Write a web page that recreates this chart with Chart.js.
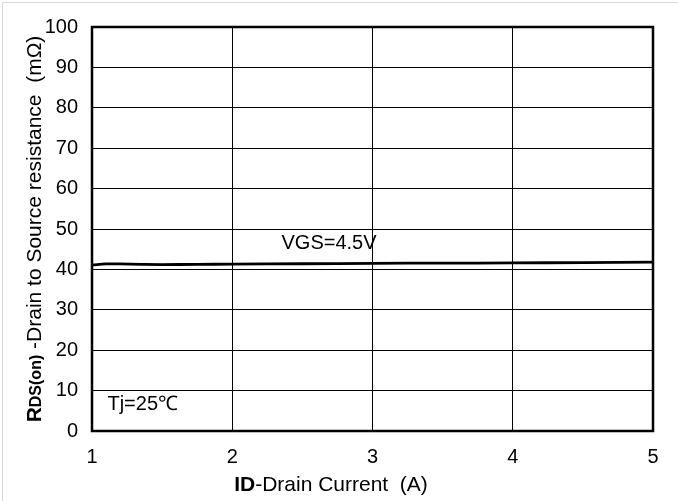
<!DOCTYPE html>
<html>
<head>
<meta charset="utf-8">
<script src="https://cdn.jsdelivr.net/npm/chart.js@4"></script>
<style>
  html, body { margin: 0; padding: 0; background: #fff; }
  #wrap { position: relative; width: 678px; height: 501px; }
  #frame { position: absolute; left: 2px; top: 2px; right: 0; bottom: 0;
           border-left: 1px solid #d9d9d9; border-top: 1px solid #d9d9d9; pointer-events: none; }
  canvas { display: block; }
</style>
</head>
<body>
<div id="wrap">
  <canvas id="c" width="678" height="501"></canvas>
  <div id="frame"></div>
</div>
<script>
// Drain current (A) and on-resistance (mΩ) at VGS = 4.5 V, Tj = 25 °C
const drainCurrent = [1.0, 1.1, 1.2, 1.35, 1.5, 1.75, 2.0, 2.5, 3.0, 3.5, 4.0, 4.5, 5.0];
const rdsOn        = [41.1, 41.35, 41.35, 41.25, 41.2, 41.25, 41.3, 41.4, 41.5, 41.55, 41.6, 41.7, 41.8];

const xTicks = [1, 2, 3, 4, 5];
const yTicks = [0, 10, 20, 30, 40, 50, 60, 70, 80, 90, 100];

const curveLabel = 'VGS=4.5V';
const tempLabel = 'Tj=25℃';
const curveLabelPos = { x: 2.69, y: 46.3 };
const tempLabelPos = { x: 1.11, y: 6.5 };

const FONT = '"Liberation Sans", Arial, sans-serif';
const FS = 20;      // annotations and tick labels
const TS = 21;      // axis titles

const plotFrame = {
  id: 'plotFrame',
  afterDraw(chart) {
    const { ctx, chartArea: a, scales } = chart;
    ctx.save();
    // outer frame of the plot area
    ctx.strokeStyle = '#000';
    ctx.lineWidth = 2.5;
    ctx.strokeRect(a.left, a.top, a.right - a.left, a.bottom - a.top);

    // annotations inside the plot
    ctx.fillStyle = '#000';
    ctx.font = `${FS}px ${FONT}`;
    ctx.textBaseline = 'middle';
    ctx.textAlign = 'center';
    ctx.fillText(curveLabel, scales.x.getPixelForValue(curveLabelPos.x), scales.y.getPixelForValue(curveLabelPos.y));
    ctx.textAlign = 'left';
    ctx.fillText(tempLabel, scales.x.getPixelForValue(tempLabelPos.x), scales.y.getPixelForValue(tempLabelPos.y));

    // x axis title: bold "ID" followed by regular text
    const xParts = [
      { t: 'ID', f: `bold ${TS}px ${FONT}` },
      { t: '-Drain Current  (A)', f: `${TS}px ${FONT}` }
    ];
    drawParts(ctx, xParts, 331, 483, TS);

    // y axis title, rotated
    ctx.save();
    ctx.translate(33, 229);
    ctx.rotate(-Math.PI / 2);
    const yParts = [
      { t: 'R', f: `bold ${TS}px ${FONT}` },
      { t: 'DS(on)', f: `bold ${TS - 5}px ${FONT}` },
      { t: ' -Drain to Source resistance  (mΩ)', f: `${TS}px ${FONT}` }
    ];
    drawParts(ctx, yParts, 0, 0, TS);
    ctx.restore();
    ctx.restore();
  }
};

function drawParts(ctx, parts, cx, cy, size) {
  let total = 0;
  parts.forEach(p => { ctx.font = p.f; p.w = ctx.measureText(p.t).width; total += p.w; });
  let x = cx - total / 2;
  ctx.textAlign = 'left';
  ctx.textBaseline = 'alphabetic';
  parts.forEach(p => {
    ctx.font = p.f;
    ctx.fillText(p.t, x, cy + size * 0.36);
    x += p.w;
  });
}

new Chart(document.getElementById('c'), {
  type: 'line',
  data: {
    datasets: [{
      data: drainCurrent.map((x, i) => ({ x, y: rdsOn[i] })),
      borderColor: '#000',
      borderWidth: 2.8,
      pointRadius: 0,
      tension: 0.4,
      fill: false
    }]
  },
  options: {
    responsive: false,
    animation: false,
    layout: { padding: { top: 27, right: 25, left: 0, bottom: 0 } },
    plugins: { legend: { display: false }, tooltip: { enabled: false } },
    scales: {
      x: {
        type: 'linear', min: 1, max: 5,
        afterBuildTicks: s => { s.ticks = xTicks.map(v => ({ value: v })); },
        afterFit: s => { s.height = 70; },
        grid: { color: '#000', lineWidth: 1, drawTicks: false },
        border: { display: false },
        ticks: { color: '#000', font: { family: FONT, size: FS }, padding: 14 }
      },
      y: {
        type: 'linear', min: 0, max: 100,
        afterBuildTicks: s => { s.ticks = yTicks.map(v => ({ value: v })); },
        afterFit: s => { s.width = 92; },
        grid: { color: '#000', lineWidth: 1, drawTicks: false },
        border: { display: false },
        ticks: { color: '#000', font: { family: FONT, size: FS }, padding: 14 }
      }
    }
  },
  plugins: [plotFrame]
});
</script>
</body>
</html>
